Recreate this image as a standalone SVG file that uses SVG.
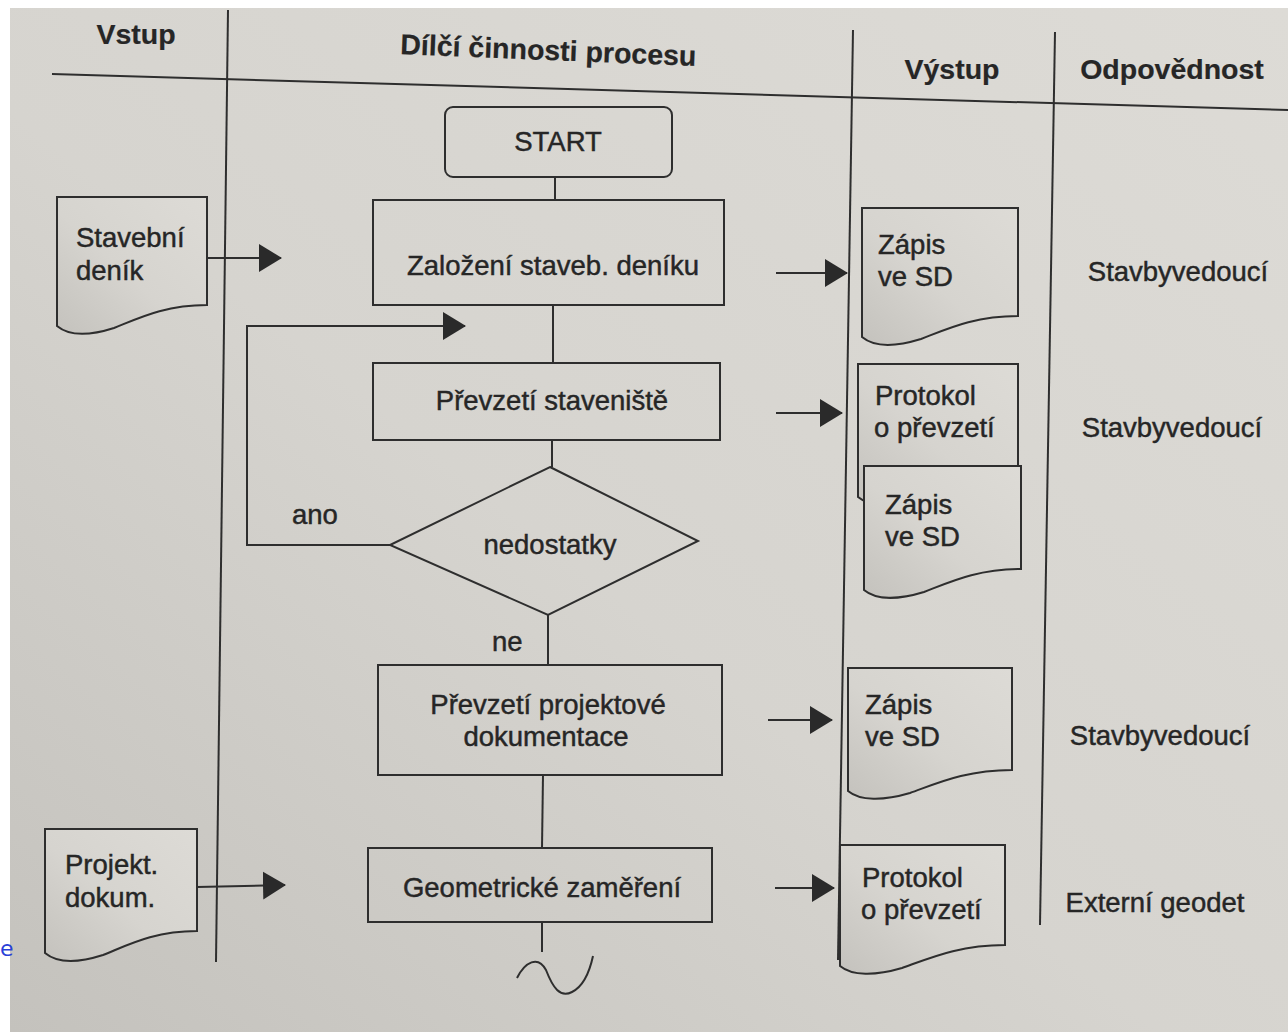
<svg xmlns="http://www.w3.org/2000/svg" width="1288" height="1032" viewBox="0 0 1288 1032">
<defs>
<linearGradient id="bg" x1="0" y1="1" x2="1" y2="0">
<stop offset="0" stop-color="#c4c2bd"/>
<stop offset="0.45" stop-color="#d6d4cf"/>
<stop offset="1" stop-color="#dddbd6"/>
</linearGradient>
<marker id="ah" markerUnits="userSpaceOnUse" markerWidth="24" markerHeight="30" refX="22" refY="14" orient="auto">
<path d="M0,0 L23,14 L0,28 Z" fill="#2a2a2a"/>
</marker>
<style>
.ln{stroke:#2e2e2e;stroke-width:2;fill:none}
.box{stroke:#2e2e2e;stroke-width:2;fill:none}
.doc{stroke:#2e2e2e;stroke-width:2;fill:url(#bg)}
.t{font-family:"Liberation Sans",Arial,sans-serif;font-size:27.5px;fill:#262626;stroke:#262626;stroke-width:0.45}
.c{text-anchor:middle}
.h{font-weight:bold;font-size:28.5px;stroke-width:0.2}
</style>
</defs>
<rect width="1288" height="1032" fill="#ffffff"/>
<rect x="10" y="8" width="1278" height="1024" fill="url(#bg)"/>
<text x="0" y="956" font-family="DejaVu Sans,sans-serif" font-size="22" fill="#2a3fd8">e</text>

<g id="lanes">
<line class="ln" x1="52" y1="74" x2="1288" y2="110"/>
<line class="ln" x1="228" y1="10" x2="216" y2="962"/>
<line class="ln" x1="853" y1="30" x2="838" y2="960"/>
<line class="ln" x1="1055" y1="32" x2="1040" y2="925"/>
<text class="t h c" x="136" y="44">Vstup</text>
<text class="t h c" x="548" y="60" transform="rotate(2.3 548 60)">Dílčí činnosti procesu</text>
<text class="t h c" x="952" y="79">Výstup</text>
<text class="t h c" x="1172" y="79">Odpovědnost</text>
</g>

<g id="connectors">
<line class="ln" x1="555" y1="177" x2="555" y2="200"/>
<line class="ln" x1="553" y1="305" x2="553" y2="363"/>
<line class="ln" x1="552" y1="440" x2="552" y2="467"/>
<line class="ln" x1="548" y1="615" x2="548" y2="665"/>
<line class="ln" x1="543" y1="775" x2="542" y2="848"/>
<line class="ln" x1="542" y1="922" x2="542" y2="952"/>
<path class="ln" d="M517,978 C525,962 538,955 546,970 C553,988 560,998 572,992 C584,986 590,970 593,956"/>
<path class="ln" d="M390,545 H247 V326 H465" marker-end="url(#ah)"/>
<line class="ln" x1="207" y1="258" x2="281" y2="258" marker-end="url(#ah)"/>
<line class="ln" x1="197" y1="887" x2="285" y2="885" marker-end="url(#ah)"/>
<line class="ln" x1="776" y1="273" x2="847" y2="273" marker-end="url(#ah)"/>
<line class="ln" x1="776" y1="413" x2="842" y2="413" marker-end="url(#ah)"/>
<line class="ln" x1="768" y1="720" x2="832" y2="720" marker-end="url(#ah)"/>
<line class="ln" x1="775" y1="888" x2="834" y2="888" marker-end="url(#ah)"/>
<text class="t" x="292" y="524">ano</text>
<text class="t" x="492" y="651">ne</text>
</g>

<g id="start">
<rect class="box" x="445" y="107" width="227" height="70" rx="8"/>
<text class="t c" x="558" y="151" font-size="30">START</text>
</g>
<g id="zalozeni">
<rect class="box" x="373" y="200" width="351" height="105"/>
<text class="t c" x="553" y="275">Založení staveb. deníku</text>
</g>
<g id="prevzeti-stavenist">
<rect class="box" x="373" y="363" width="347" height="77"/>
<text class="t c" x="552" y="410">Převzetí staveniště</text>
</g>
<g id="nedostatky">
<path class="box" d="M550,467 L698,541 L548,615 L390,545 Z"/>
<text class="t c" x="550" y="554">nedostatky</text>
</g>
<g id="prevzeti-pd">
<rect class="box" x="378" y="665" width="344" height="110"/>
<text class="t c" x="548" y="714">Převzetí projektové</text>
<text class="t c" x="546" y="746">dokumentace</text>
</g>
<g id="geometricke">
<rect class="box" x="368" y="848" width="344" height="74"/>
<text class="t c" x="542" y="897">Geometrické zaměření</text>
</g>

<g id="stavebni-denik">
<path class="doc" d="M57,197 h150 v108 c-42,0 -68,13 -93,23 c-25,8 -45,8 -57,-2 z"/>
<text class="t" x="76" y="247">Stavební</text>
<text class="t" x="76" y="280">deník</text>
</g>
<g id="projekt-dokum">
<path class="doc" d="M45,829 h152 v102 c-43,0 -69,14 -94,24 c-25,8 -46,8 -58,-2 z"/>
<text class="t" x="65" y="874">Projekt.</text>
<text class="t" x="65" y="907">dokum.</text>
</g>

<g id="zapis-1">
<path class="doc" d="M862,208 h156 v108 c-44,0 -71,13 -97,23 c-26,8 -47,8 -59,-2 z"/>
<text class="t" x="878" y="254">Zápis</text>
<text class="t" x="878" y="286">ve SD</text>
</g>
<g id="protokol-1">
<path class="doc" d="M858,364 h160 v112 c-45,0 -73,13 -99,23 c-27,8 -49,8 -61,-2 z"/>
<text class="t" x="875" y="405">Protokol</text>
<text class="t" x="874" y="437">o převzetí</text>
</g>
<g id="zapis-2">
<path class="doc" d="M864,466 h157 v103 c-44,0 -71,13 -97,23 c-26,8 -48,8 -60,-2 z"/>
<text class="t" x="885" y="514">Zápis</text>
<text class="t" x="885" y="546">ve SD</text>
</g>
<g id="zapis-3">
<path class="doc" d="M848,668 h164 v102 c-46,0 -74,13 -102,23 c-27,8 -50,8 -62,-2 z"/>
<text class="t" x="865" y="714">Zápis</text>
<text class="t" x="865" y="746">ve SD</text>
</g>
<g id="protokol-2">
<path class="doc" d="M840,845 h165 v100 c-46,0 -75,13 -103,23 c-27,8 -50,8 -62,-2 z"/>
<text class="t" x="862" y="887">Protokol</text>
<text class="t" x="861" y="919">o převzetí</text>
</g>

<g id="odpovednost">
<text class="t c" x="1178" y="281">Stavbyvedoucí</text>
<text class="t c" x="1172" y="437">Stavbyvedoucí</text>
<text class="t c" x="1160" y="745">Stavbyvedoucí</text>
<text class="t c" x="1155" y="912">Externí geodet</text>
</g>
</svg>
